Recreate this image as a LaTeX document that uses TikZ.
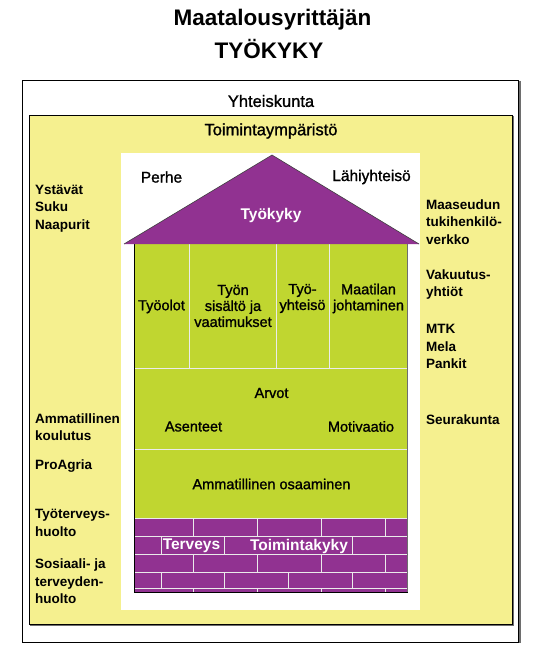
\documentclass[tikz,border=0pt]{standalone}
\usepackage{fontspec}
\setmainfont{Liberation Sans}
\newfontfamily\semibf{Liberation Sans}[FakeBold=1.2]
\definecolor{ylw}{RGB}{245,240,143}
\definecolor{grn}{RGB}{192,214,48}
\definecolor{prp}{RGB}{145,50,145}
\definecolor{shd}{RGB}{110,110,110}
\begin{document}
\begin{tikzpicture}[x=1pt,y=-1pt,
  ttl/.style={font=\bfseries\fontsize{22.5}{26}\selectfont, inner sep=0},
  frame/.style={font=\semibf\fontsize{16.5}{19}\selectfont, inner sep=0},
  lbl/.style={font=\semibf\fontsize{14.5}{16}\selectfont, align=center, inner sep=0},
  wlbl/.style={font=\bfseries\fontsize{15.5}{18}\selectfont, text=white, inner sep=0},
  side/.style={font=\bfseries\fontsize{13.5}{17.5}\selectfont, align=left, anchor=west, inner sep=0},
  mortar/.style={white!92!black, line width=1pt}]
\useasboundingbox (0,0) rectangle (552,660);
\fill[white] (0,0) rectangle (552,660);
% title
\node[ttl] (t1) at (272.5,20) {Maatalousyrittäjän};
\node[ttl] (t2) at (269,49) {TYÖKYKY};
% outer frame
\draw[shd, line width=2pt] (519.5,81) -- (519.5,643);
\draw[black, line width=0.9pt, fill=white] (22,80) rectangle (518,642);
\node[frame] (yht) at (271,101) {Yhteiskunta};
% yellow frame
\draw[shd, line width=1.6pt] (513,116) -- (513,625.2) -- (30,625.2);
\draw[black, line width=0.9pt, fill=ylw] (29,115) rectangle (512,624);
\node[frame] (toim) at (271,131) {Toimintaympäristö};
% white house background
\fill[white] (121,153) rectangle (420,610);
% green body
\fill[grn] (134.5,244) rectangle (407.5,518);
\foreach \x in {189.5,276,329.5} \draw[mortar] (\x,244) -- (\x,368.5);
\draw[mortar] (134.5,368.5) -- (407.5,368.5);
\draw[mortar] (134.5,449) -- (407.5,449);
% purple bricks
\fill[prp] (134.5,518) rectangle (407.5,592);
\foreach \y in {518,536.5,554.5,572,588.5} \draw[mortar] (134.5,\y) -- (407.5,\y);
\foreach \x in {193.5,257.5,321.5,385.5} {
  \draw[mortar] (\x,518) -- (\x,536.5);
  \draw[mortar] (\x,554.5) -- (\x,572);
  \draw[mortar] (\x,588.5) -- (\x,592);
}
\foreach \x in {161,224,352} \draw[mortar] (\x,536.5) -- (\x,554.5);
\foreach \x in {161,224,288,352} \draw[mortar] (\x,572) -- (\x,588.5);
\draw[black, line width=0.9pt] (134.5,244) -- (134.5,592) -- (407.5,592);
\draw[shd, line width=1.3pt] (407.5,244) -- (407.5,592.4);
% roof
\fill[prp] (124,244) -- (272,155) -- (419,244) -- cycle;
\draw[black!75, line width=0.6pt] (124,244) -- (272,155) -- (419,244);
% house texts
\node[frame, font=\semibf\fontsize{15.5}{18}\selectfont] (perhe) at (161.5,177) {Perhe};
\node[frame, font=\semibf\fontsize{15.5}{18}\selectfont] (lahi) at (371.5,177) {Lähiyhteisö};
\node[wlbl] (tyokyky) at (271,215) {Työkyky};
\node[lbl] (tyoolot) at (161.5,306.5) {Työolot};
\node[lbl] (sisalto) at (233,306) {Työn\\sisältö ja\\vaatimukset};
\node[lbl] (yhteiso) at (302.5,298.5) {Työ-\\yhteisö};
\node[lbl] (maatila) at (368.5,298.5) {Maatilan\\johtaminen};
\node[lbl] (arvot) at (271.5,393) {Arvot};
\node[lbl] (asenteet) at (193.5,426.5) {Asenteet};
\node[lbl] (motiv) at (361,426.5) {Motivaatio};
\node[lbl] (osaam) at (271.5,484) {Ammatillinen osaaminen};
\node[wlbl] (terveys) at (191.5,546) {Terveys};
\node[wlbl] (toimkyky) at (299,546) {Toimintakyky};
% left side labels
\node[side] (ystavat) at (35,208.5) {Ystävät\\Suku\\Naapurit};
\node[side] (amkoul) at (35,427) {Ammatillinen\\koulutus};
\node[side] (proagria) at (35,466.5) {ProAgria};
\node[side] (tyoterv) at (35,523) {Työterveys-\\huolto};
\node[side] (sosiaali) at (35,581.5) {Sosiaali- ja\\terveyden-\\huolto};
% right side labels
\node[side] (maaseutu) at (426,222) {Maaseudun\\tukihenkilö-\\verkko};
\node[side] (vakuutus) at (426,284.5) {Vakuutus-\\yhtiöt};
\node[side] (mtk) at (426,346.5) {MTK\\Mela\\Pankit};
\node[side] (seura) at (426,419.5) {Seurakunta};
\end{tikzpicture}
\end{document}
